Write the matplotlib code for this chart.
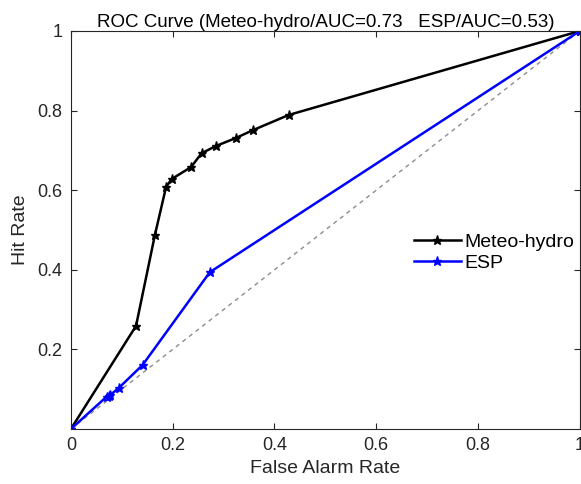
import numpy as np
import matplotlib
matplotlib.use("Agg")
import matplotlib.pyplot as plt

# ROC points
far_meteo = [0.0, 0.128, 0.165, 0.187, 0.198, 0.236, 0.257, 0.285, 0.324, 0.358, 0.428, 1.0]
hit_meteo = [0.0, 0.259, 0.487, 0.608, 0.628, 0.658, 0.693, 0.711, 0.731, 0.751, 0.789, 1.0]

far_esp = [0.0, 0.070, 0.074, 0.077, 0.094, 0.141, 0.273, 1.0]
hit_esp = [0.0, 0.081, 0.083, 0.085, 0.103, 0.161, 0.394, 1.0]

x_ticks = [0, 0.2, 0.4, 0.6, 0.8, 1]
x_labels = ["0", "0.2", "0.4", "0.6", "0.8", "1"]
y_ticks = [0.2, 0.4, 0.6, 0.8, 1]
y_labels = ["0.2", "0.4", "0.6", "0.8", "1"]

plt.rcParams['font.family'] = ['Liberation Sans', 'DejaVu Sans']

fig = plt.figure(figsize=(5.81, 4.84), dpi=100)
ax = fig.add_axes([0.122, 0.1136, 0.876, 0.8224])

ax.plot([0, 1], [0, 1], linestyle=(0, (3, 3)), color='0.55', linewidth=1.0)
ax.plot(far_meteo, hit_meteo, color='black', marker='*', markersize=6.5, linewidth=1.8,
        label='Meteo-hydro')
ax.plot(far_esp, hit_esp, color='#0000ff', marker='*', markersize=6.5, linewidth=1.8,
        label='ESP')

ax.set_xlim(0, 1)
ax.set_ylim(0, 1)
ax.set_xticks(x_ticks)
ax.set_xticklabels(x_labels)
ax.set_yticks(y_ticks)
ax.set_yticklabels(y_labels)

for s in ax.spines.values():
    s.set_color('#262626')
    s.set_linewidth(0.8)
ax.tick_params(direction='in', top=True, right=True, length=4, labelsize=13,
               colors='#262626', pad=6)

ax.set_xlabel('False Alarm Rate', fontsize=14, color='#262626', labelpad=4)
ax.set_ylabel('Hit Rate', fontsize=14, color='#262626', labelpad=6)
ax.set_title('ROC Curve (Meteo-hydro/AUC=0.73   ESP/AUC=0.53)', fontsize=13.5, pad=3)

ax.legend(loc='upper left', bbox_to_anchor=(0.64, 0.535), frameon=False, fontsize=14,
          handlelength=2.4, handletextpad=0.2, labelspacing=0.15)

fig.savefig('out.png', dpi=100)
